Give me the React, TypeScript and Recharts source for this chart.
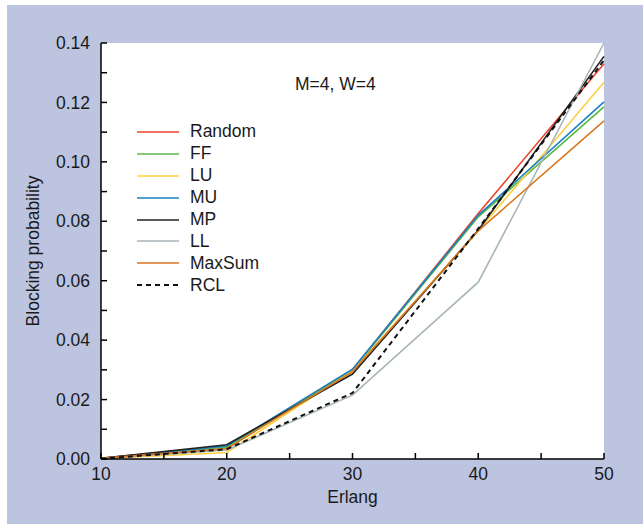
import {
  LineChart,
  Line,
  XAxis,
  YAxis,
  CartesianGrid,
  Legend,
  Label
} from "recharts";

const erlang = [10, 20, 30, 40, 50];

const random = [0.0002, 0.0042, 0.03, 0.0826, 0.133];
const ff = [0.0002, 0.004, 0.0298, 0.0815, 0.1185];
const lu = [0.0001, 0.0022, 0.0296, 0.0768, 0.1268];
const mu = [0.0002, 0.0044, 0.0302, 0.082, 0.1202];
const mp = [0.0002, 0.0048, 0.0286, 0.077, 0.1355];
const ll = [0.0001, 0.003, 0.0215, 0.0595, 0.14];
const maxSum = [0.0002, 0.0035, 0.0294, 0.0768, 0.1138];
const rcl = [0.0001, 0.0033, 0.0222, 0.0775, 0.1342];

const xTicks = [10, 15, 20, 25, 30, 35, 40, 45, 50];
const yTicks = [0, 0.01, 0.02, 0.03, 0.04, 0.05, 0.06, 0.07, 0.08, 0.09, 0.1, 0.11, 0.12, 0.13, 0.14];

const series = [
  { key: "random", name: "Random", values: random, color: "#e8432b", dash: undefined },
  { key: "ff", name: "FF", values: ff, color: "#5cb947", dash: undefined },
  { key: "lu", name: "LU", values: lu, color: "#fcd042", dash: undefined },
  { key: "mu", name: "MU", values: mu, color: "#1a80c4", dash: undefined },
  { key: "mp", name: "MP", values: mp, color: "#222222", dash: undefined },
  { key: "ll", name: "LL", values: ll, color: "#a8b5b8", dash: undefined },
  { key: "maxSum", name: "MaxSum", values: maxSum, color: "#d8771f", dash: undefined },
  { key: "rcl", name: "RCL", values: rcl, color: "#111111", dash: "5 4" }
];

const data = erlang.map((x, i) => {
  const row: Record<string, number> = { x };
  series.forEach((s) => {
    row[s.key] = s.values[i];
  });
  return row;
});

const FONT = "'Liberation Sans', Arial, Helvetica, sans-serif";
const tickStyle = { fontSize: 17.5, fill: "#1a1a1a", fontFamily: FONT };

const fmtX = (v: number) => (v % 10 === 0 ? String(v) : "");
const fmtY = (v: number) => {
  const n = Math.round(v * 100);
  return n % 2 === 0 ? v.toFixed(2) : "";
};

const LegendBox = () => (
  <div style={{ fontFamily: FONT, fontSize: 17.5, color: "#1a1a1a" }}>
    {series.map((s) => (
      <div key={s.key} style={{ display: "flex", alignItems: "center", height: 21.9 }}>
        <svg width={42} height={6} style={{ marginRight: 11 }}>
          <line
            x1={0}
            y1={3}
            x2={42}
            y2={3}
            stroke={s.color}
            strokeWidth={s.dash ? 2 : 1.6}
            strokeDasharray={s.dash}
          />
        </svg>
        <span>{s.name}</span>
      </div>
    ))}
  </div>
);

const App = () => {
  return (
    <div
      style={{
        position: "absolute",
        left: 7,
        top: 5,
        width: 636,
        height: 519,
        background: "#bcc4e0"
      }}
    >
      <LineChart
        width={636}
        height={519}
        data={data}
        margin={{ top: 38, right: 39, bottom: 35, left: 34 }}
      >
        <CartesianGrid fill="#ffffff" horizontal={false} vertical={false} />
        <XAxis
          dataKey="x"
          type="number"
          domain={[10, 50]}
          ticks={xTicks}
          tickFormatter={fmtX}
          tickSize={-6}
          tickMargin={15}
          height={30}
          stroke="#000"
          strokeWidth={1.5}
          tick={tickStyle}
          interval={0}
        >
          <Label
            value="Erlang"
            position="bottom"
            offset={2}
            style={{ fontSize: 17.5, fill: "#1a1a1a", fontFamily: FONT }}
          />
        </XAxis>
        <XAxis
          xAxisId="top"
          orientation="top"
          dataKey="x"
          type="number"
          domain={[10, 50]}
          ticks={xTicks}
          tickSize={-6}
          height={0}
          tick={false}
          stroke="#000"
          strokeWidth={1.5}
          interval={0}
        />
        <YAxis
          type="number"
          domain={[0, 0.14]}
          ticks={yTicks}
          tickFormatter={fmtY}
          tickSize={-6}
          tickMargin={17}
          width={60}
          stroke="#000"
          strokeWidth={1.5}
          tick={tickStyle}
          interval={0}
        >
          <Label
            value="Blocking probability"
            angle={-90}
            position="left"
            offset={8}
            style={{ fontSize: 17.5, fill: "#1a1a1a", fontFamily: FONT, textAnchor: "middle" }}
          />
        </YAxis>
        <YAxis
          yAxisId="right"
          orientation="right"
          type="number"
          domain={[0, 0.14]}
          ticks={yTicks}
          tickSize={-6}
          width={0}
          tick={false}
          stroke="#000"
          strokeWidth={1.5}
          interval={0}
        />
        <Legend
          layout="vertical"
          align="center"
          verticalAlign="middle"
          content={() => <LegendBox />}
          wrapperStyle={{ left: 130, top: 116, width: 160 }}
        />
        {series.map((s) => (
          <Line
            key={s.key}
            type="linear"
            dataKey={s.key}
            name={s.name}
            stroke={s.color}
            strokeWidth={s.dash ? 2 : 1.6}
            strokeDasharray={s.dash}
            dot={false}
            isAnimationActive={false}
          />
        ))}
      </LineChart>
      <div
        style={{
          position: "absolute",
          left: 288,
          top: 69,
          fontFamily: FONT,
          fontSize: 17.5,
          color: "#1a1a1a"
        }}
      >
        M=4, W=4
      </div>
    </div>
  );
};

export default App;
